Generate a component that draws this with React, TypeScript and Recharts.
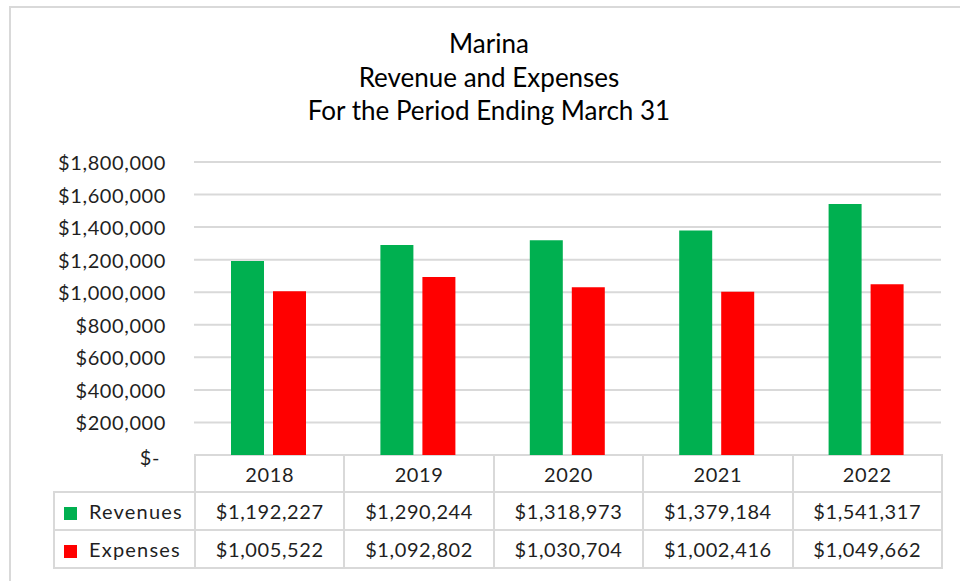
// Marina revenue vs expenses column chart with data table
import { BarChart, Bar, XAxis, YAxis, CartesianGrid } from 'recharts';

const years = ['2018', '2019', '2020', '2021', '2022'];
const revenues = [1192227, 1290244, 1318973, 1379184, 1541317];
const expenses = [1005522, 1092802, 1030704, 1002416, 1049662];
const yTicks = [0, 200000, 400000, 600000, 800000, 1000000, 1200000, 1400000, 1600000, 1800000];
const titleLines = ['Marina', 'Revenue and Expenses', 'For the Period Ending March 31'];

const GREEN = '#00B050';
const RED = '#FF0000';
const GRID = '#D9D9D9';
const TEXT = '#1f1f1f';
const FONT = 'Lato, "Open Sans", sans-serif';

const PLOT_LEFT = 194;
const PLOT_RIGHT = 941;
const PLOT_TOP = 162;
const PLOT_BOTTOM = 455;
const CHART_H = 470;

const data = years.map((year, i) => ({ year, revenues: revenues[i], expenses: expenses[i] }));

const money = (v: number) => (v === 0 ? '$-' : '$' + v.toLocaleString('en-US'));

const series = [
  { key: 'revenues', name: 'Revenues', color: GREEN, values: revenues },
  { key: 'expenses', name: 'Expenses', color: RED, values: expenses },
];

// y tick: zero value shown as "$-" a bit left, like accounting format
function YTick(props: any) {
  const { x, y, payload } = props;
  const isZero = payload.value === 0;
  return (
    <text
      x={isZero ? x - 6 : x}
      y={y}
      dy={isZero ? 2 : 0}
      textAnchor="end"
      dominantBaseline="central"
      fill={TEXT}
      fontSize={20}
      letterSpacing={0.6}
      fontFamily={FONT}
    >
      {money(payload.value)}
    </text>
  );
}

export default function App() {
  const cellBorder = `2px solid ${GRID}`;
  const colW = (PLOT_RIGHT - PLOT_LEFT) / years.length;

  return (
    <div style={{ position: 'absolute', left: 0, top: 0, width: 960, height: 581, background: '#fff', overflow: 'hidden', fontFamily: FONT }}>
      {/* outer chart frame */}
      <div style={{ position: 'absolute', left: 9, top: 6, width: 980, height: 600, border: `2px solid ${GRID}`, boxSizing: 'border-box' }} />

      <div style={{ position: 'absolute', left: 0, top: 27, width: 978, textAlign: 'center', color: '#000', fontSize: 26, lineHeight: '33.5px' }}>
        {titleLines.map((t) => (
          <div key={t}>{t}</div>
        ))}
      </div>

      <table
        style={{
          position: 'absolute',
          left: 53,
          top: PLOT_BOTTOM - 1,
          width: PLOT_RIGHT - 53,
          borderCollapse: 'collapse',
          tableLayout: 'fixed',
          color: TEXT,
          fontSize: 20,
          letterSpacing: 0.6,
          fontFamily: FONT,
        }}
      >
        <colgroup>
          <col style={{ width: PLOT_LEFT - 53 }} />
          {years.map((y) => (
            <col key={y} style={{ width: colW }} />
          ))}
        </colgroup>
        <tbody>
          <tr style={{ height: 37 }}>
            <td style={{ borderTop: 'hidden', borderLeft: 'hidden', borderBottom: cellBorder, borderRight: cellBorder }} />
            {years.map((y) => (
              <td key={y} style={{ border: cellBorder, textAlign: 'center', padding: 0 }}>
                {y}
              </td>
            ))}
          </tr>
          {series.map((s) => (
            <tr key={s.key} style={{ height: 38 }}>
              <td style={{ border: cellBorder, padding: '0 0 0 9px', whiteSpace: 'nowrap', letterSpacing: 1.2 }}>
                <span style={{ display: 'inline-block', width: 13, height: 13, background: s.color, marginRight: 12, verticalAlign: -1 }} />
                {s.name}
              </td>
              {s.values.map((v, i) => (
                <td key={i} style={{ border: cellBorder, textAlign: 'center', padding: 0 }}>
                  {money(v)}
                </td>
              ))}
            </tr>
          ))}
        </tbody>
      </table>

      <div style={{ position: 'absolute', left: 0, top: 0 }}>
        <BarChart
          width={960}
          height={CHART_H}
          data={data}
          margin={{ top: PLOT_TOP, right: 960 - PLOT_RIGHT, bottom: CHART_H - PLOT_BOTTOM, left: 0 }}
          barSize={33}
          barGap={9}
        >
          <CartesianGrid vertical={false} stroke={GRID} strokeWidth={2} />
          <XAxis dataKey="year" hide />
          <YAxis
            width={PLOT_LEFT}
            domain={[0, 1800000]}
            ticks={yTicks}
            interval={0}
            axisLine={false}
            tickLine={false}
            tickSize={0}
            tickMargin={28}
            tick={<YTick />}
          />
          {series.map((s) => (
            <Bar key={s.key} dataKey={s.key} name={s.name} fill={s.color} isAnimationActive={false} />
          ))}
        </BarChart>
      </div>
    </div>
  );
}
